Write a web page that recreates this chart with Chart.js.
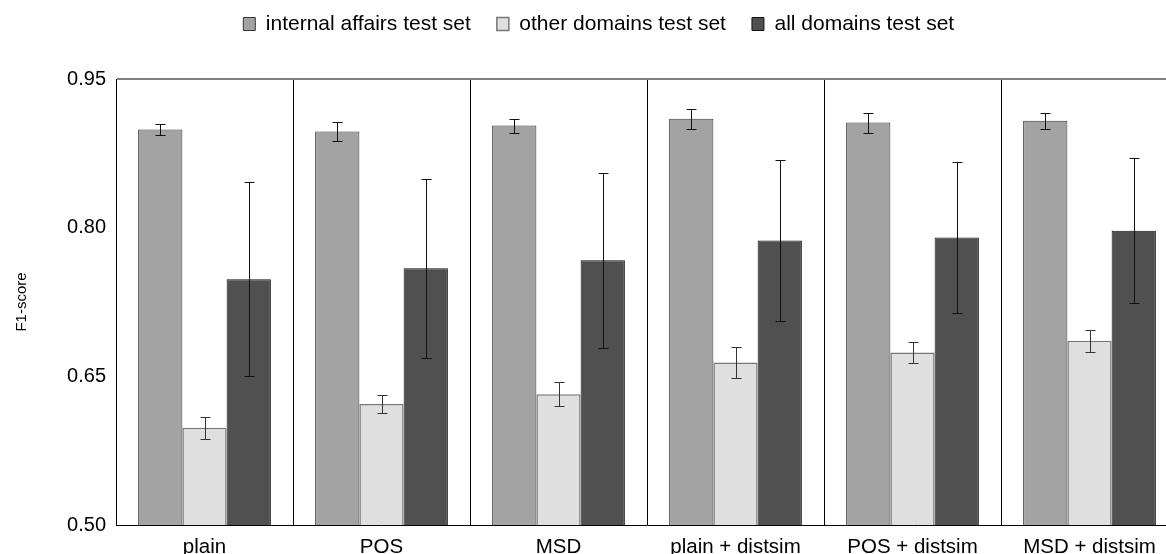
<!DOCTYPE html>
<html>
<head>
<meta charset="utf-8">
<script src="https://cdn.jsdelivr.net/npm/chart.js@4"></script>
<style>
  html, body { margin: 0; padding: 0; background: #fff; overflow: hidden; }
  #wrap { position: relative; width: 1178px; height: 554px; }
</style>
</head>
<body>
<div id="wrap"><canvas id="chart"></canvas></div>
<script>
const categories = ["plain", "POS", "MSD", "plain + distsim", "POS + distsim", "MSD + distsim"];
const seriesNames = ["internal affairs test set", "other domains test set", "all domains test set"];

const internalScores = [0.899, 0.897, 0.903, 0.910, 0.906, 0.908];
const internalErrors = [0.006, 0.010, 0.007, 0.010, 0.010, 0.008];
const otherScores = [0.598, 0.622, 0.632, 0.664, 0.674, 0.686];
const otherErrors = [0.011, 0.009, 0.012, 0.016, 0.011, 0.011];
const allScores = [0.748, 0.759, 0.767, 0.787, 0.790, 0.797];
const allErrors = [0.098, 0.090, 0.088, 0.081, 0.076, 0.073];

const yTicks = [0.50, 0.65, 0.80, 0.95];

Chart.defaults.font.family = '"Liberation Sans", Arial, sans-serif';
Chart.defaults.color = "#000";

// whiskers: value +/- error, drawn through the y scale
const errorBars = {
  id: "errorBars",
  afterDatasetsDraw(chart) {
    const ctx = chart.ctx;
    const y = chart.scales.y;
    chart.data.datasets.forEach((ds, di) => {
      const meta = chart.getDatasetMeta(di);
      if (meta.hidden) return;
      meta.data.forEach((bar, i) => {
        const v = ds.data[i];
        const e = ds.errors[i];
        const x = Math.round(bar.x) + 0.5;
        const lo = Math.round(y.getPixelForValue(v - e)) + 0.5;
        const hi = Math.round(y.getPixelForValue(v + e)) + 0.5;
        ctx.save();
        ctx.strokeStyle = ds.errorColor;
        ctx.lineWidth = 1;
        ctx.beginPath();
        ctx.moveTo(x, lo); ctx.lineTo(x, hi);
        ctx.moveTo(x - 5, lo); ctx.lineTo(x + 5, lo);
        ctx.moveTo(x - 5, hi); ctx.lineTo(x + 5, hi);
        ctx.stroke();
        ctx.restore();
      });
    });
  }
};

// legend padding also sets item spacing, so fix its box height separately
const legendSpace = {
  id: "legendSpace",
  beforeLayout(chart) {
    const lg = chart.legend;
    if (!lg || lg._spaced) return;
    const fit = lg.fit;
    lg.fit = function () { fit.call(this); this.height = 91.5; };
    lg._spaced = true;
  }
};

new Chart(document.getElementById("chart"), {
  type: "bar",
  data: {
    labels: categories,
    datasets: [
      {
        label: seriesNames[0],
        data: internalScores,
        errors: internalErrors,
        errorColor: "#111",
        backgroundColor: "#a3a3a3",
        borderColor: "#383838",
        borderWidth: 1,
      },
      {
        label: seriesNames[1],
        data: otherScores,
        errors: otherErrors,
        errorColor: "#333",
        backgroundColor: "#dfdfdf",
        borderColor: "#777",
        borderWidth: 1.5,
      },
      {
        label: seriesNames[2],
        data: allScores,
        errors: allErrors,
        errorColor: "#111",
        backgroundColor: "#505050",
        borderColor: "#111",
        borderWidth: 1,
      },
    ],
  },
  options: {
    responsive: true,
    maintainAspectRatio: false,
    animation: false,
    devicePixelRatio: 1,
    layout: { padding: { top: -12.5, left: 19.5, right: 0, bottom: 0 } },
    datasets: { bar: { barPercentage: 1, categoryPercentage: 0.75 } },
    plugins: {
      tooltip: { enabled: false },
      legend: {
        position: "top",
        labels: { boxWidth: 12, boxHeight: 13, padding: 26, font: { size: 21 }, color: "#000" },
      },
    },
    scales: {
      x: {
        grid: { color: "#000", lineWidth: 1, drawTicks: false, offset: true },
        border: { color: "#000" },
        ticks: { font: { size: 20.5 }, color: "#000", padding: 10, maxRotation: 0, autoSkip: false },
        afterFit(s) { s.height = 29; },
      },
      y: {
        min: 0.5,
        max: 0.95,
        afterBuildTicks(s) { s.ticks = yTicks.map((v) => ({ value: v })); },
        ticks: { callback: (v) => Number(v).toFixed(2), font: { size: 20 }, color: "#000", padding: 10 },
        grid: {
          drawTicks: false,
          lineWidth: 2,
          color: (c) => (c.tick && c.tick.value === 0.95 ? "#808080" : "rgba(0,0,0,0)"),
        },
        border: { color: "#000" },
        title: { display: true, text: "F1-score", font: { size: 15 }, color: "#000", padding: { top: -7, bottom: 0 } },
        afterFit(s) { s.width = 96.5; },
      },
    },
  },
  plugins: [errorBars, legendSpace],
});
</script>
</body>
</html>
